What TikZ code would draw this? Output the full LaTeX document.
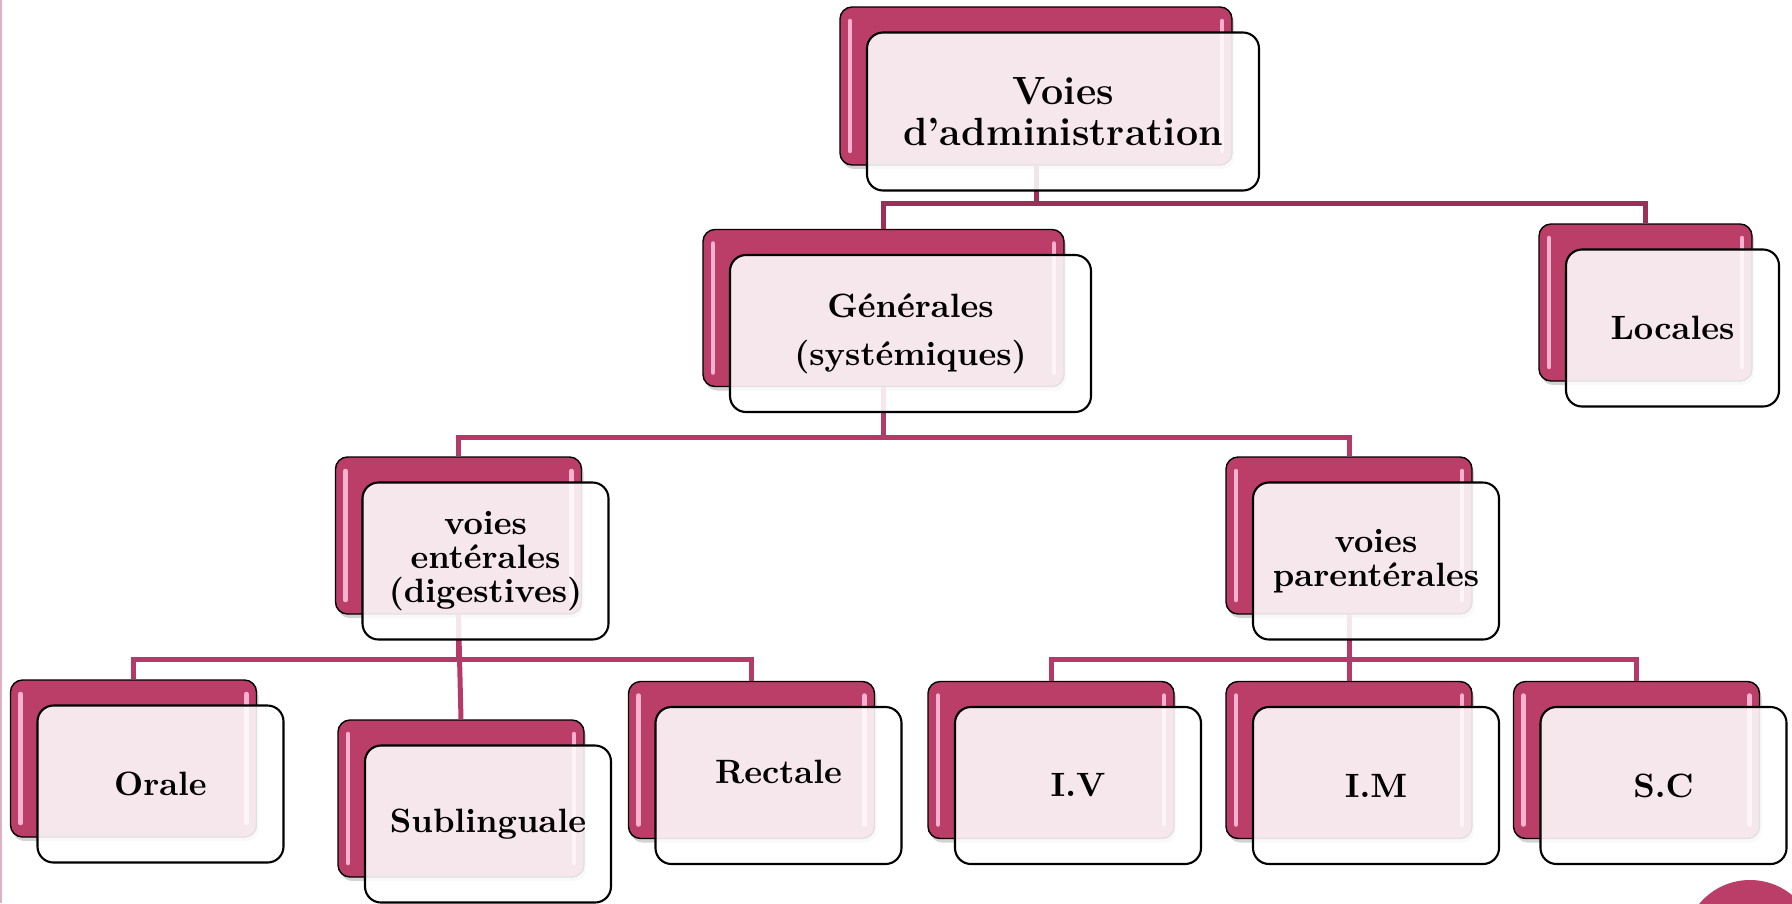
\documentclass[tikz,border=0pt]{standalone}
\usepackage{tikz}
\usetikzlibrary{shadows}
\usetikzlibrary{calc}
\definecolor{rose}{RGB}{187,62,104}
\definecolor{darkrose}{RGB}{156,47,86}
\definecolor{linkrose}{RGB}{181,58,105}
\definecolor{palerose}{RGB}{221,179,196}
\definecolor{shine}{RGB}{248,178,206}

\tikzset{
  backbox/.style={rectangle, rounded corners=0.12cm, draw=black, line width=0.4pt,
    fill=rose, minimum width=2.46cm, minimum height=1.57cm,
    drop shadow={shadow xshift=0.02cm, shadow yshift=-0.04cm, opacity=0.35},
    path picture={
      \draw[shine, line width=0.045cm, line cap=round]
        ([xshift=0.1cm, yshift=-0.14cm]path picture bounding box.north west) --
        ([xshift=0.1cm, yshift=0.14cm]path picture bounding box.south west);
      \draw[shine, line width=0.045cm, line cap=round]
        ([xshift=-0.1cm, yshift=-0.14cm]path picture bounding box.north east) --
        ([xshift=-0.1cm, yshift=0.14cm]path picture bounding box.south east);
    }},
  frontbox/.style={rectangle, rounded corners=0.16cm, draw=black, line width=0.6pt,
    fill=white, fill opacity=0.88, text opacity=1,
    minimum width=2.46cm, minimum height=1.57cm, align=center,
    font=\fontsize{9.6}{11}\selectfont\bfseries},
  link/.style={draw=linkrose, line width=0.05cm},
}

\begin{document}
\begin{tikzpicture}
  \useasboundingbox (0,0) rectangle (17.92,-9.03);
  % thin line on the left
  \draw[palerose, line width=0.025cm] (0.012,0) -- (0.012,-9.03);

  % back boxes
  \node[backbox, minimum width=3.92cm, minimum height=1.58cm] (voiesB) at (10.36,-0.86) {};
  \node[backbox, minimum width=3.61cm] (genB) at (8.835,-3.08) {};
  \node[backbox, minimum width=2.13cm] (locB) at (16.455,-3.025) {};
  \node[backbox] (entB) at (4.585,-5.355) {};
  \node[backbox] (parB) at (13.49,-5.355) {};
  \node[backbox] (oraleB) at (1.335,-7.585) {};
  \node[backbox] (sublB) at (4.61,-7.985) {};
  \node[backbox] (rectB) at (7.515,-7.60) {};
  \node[backbox] (ivB) at (10.51,-7.60) {};
  \node[backbox] (imB) at (13.49,-7.60) {};
  \node[backbox] (scB) at (16.365,-7.60) {};

  % connectors
  \coordinate (bar1) at (0,-2.03);
  \coordinate (bar2) at (0,-4.37);
  \coordinate (bar3) at (0,-6.59);
  \draw[link, draw=darkrose] (voiesB.south) |- (bar1 -| genB.north) -- (genB.north);
  \draw[link, draw=darkrose] (voiesB.south) |- (bar1 -| locB.north) -- (locB.north);
  \draw[link] (genB.south) |- (bar2 -| entB.north) -- (entB.north);
  \draw[link] (genB.south) |- (bar2 -| parB.north) -- (parB.north);
  \draw[link] (entB.south) |- (bar3 -| oraleB.north) -- (oraleB.north);
  \draw[link] (entB.south) |- (bar3 -| rectB.north) -- (rectB.north);
  \draw[link] (entB.south) -- (sublB.north);
  \draw[link] (parB.south) |- (bar3 -| ivB.north) -- (ivB.north);
  \draw[link] (parB.south) |- (bar3 -| scB.north) -- (scB.north);
  \draw[link] (parB.south) -- (imB.north);

  % front boxes
  \node[frontbox, minimum width=3.92cm, minimum height=1.58cm,
    font=\fontsize{11.2}{11.8}\selectfont\bfseries] (voies) at ($(voiesB)+(0.27,-0.255)$) {Voies\\d'administration};
  \node[frontbox, minimum width=3.61cm, font=\fontsize{9.6}{13.6}\selectfont\bfseries]
    (gen) at ($(genB)+(0.27,-0.255)$) {G\'en\'erales\\(syst\'emiques)};
  \node[frontbox, minimum width=2.13cm] (loc) at ($(locB)+(0.27,-0.255)$) {Locales};
  \node[frontbox, font=\fontsize{9.6}{9.7}\selectfont\bfseries]
    (ent) at ($(entB)+(0.27,-0.255)$) {voies\\ent\'erales\\(digestives)};
  \node[frontbox, font=\fontsize{9.6}{9.7}\selectfont\bfseries]
    (par) at ($(parB)+(0.27,-0.255)$) {voies\\parent\'erales};
  \node[frontbox] (orale) at ($(oraleB)+(0.27,-0.255)$) {Orale};
  \node[frontbox] (subl) at ($(sublB)+(0.27,-0.255)$) {Sublinguale};
  \node[frontbox] (rect) at ($(rectB)+(0.27,-0.255)$) {\raisebox{0.28cm}{Rectale}};
  \node[frontbox] (iv) at ($(ivB)+(0.27,-0.255)$) {I.V};
  \node[frontbox] (im) at ($(imB)+(0.27,-0.255)$) {I.M};
  \node[frontbox] (sc) at ($(scB)+(0.27,-0.255)$) {S.C};

  % corner disc
  \begin{scope}
    \clip (0,0) rectangle (17.92,-9.03);
    \fill[rose] (17.50,-9.46) circle (0.66);
  \end{scope}
\end{tikzpicture}
\end{document}
